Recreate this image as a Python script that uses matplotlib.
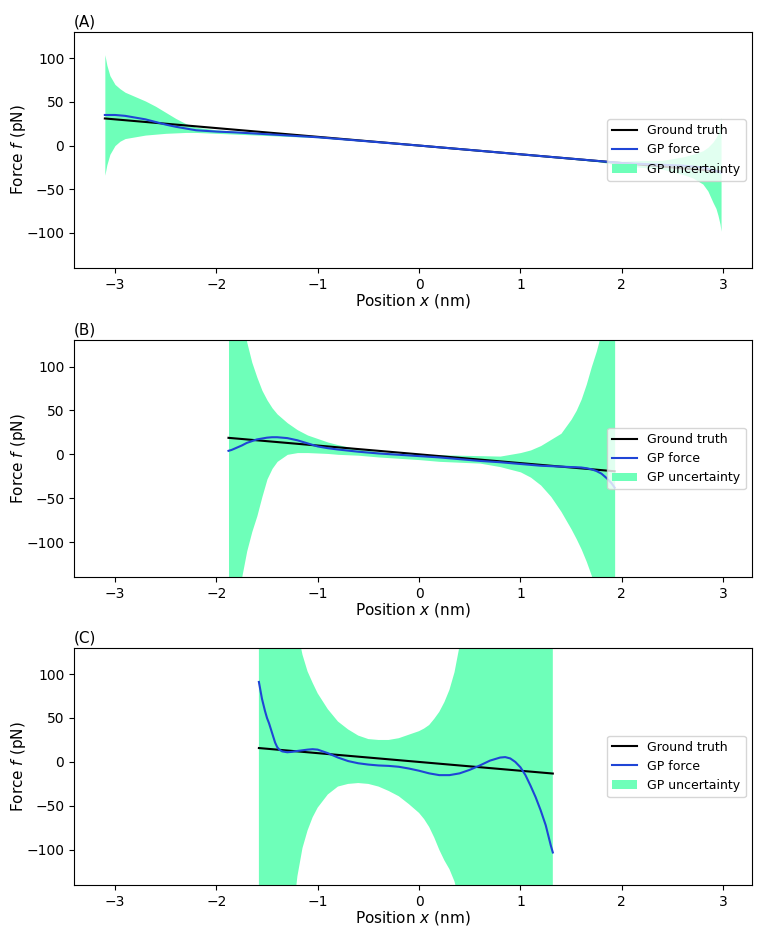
import matplotlib
matplotlib.use("Agg")
import matplotlib.pyplot as plt
import numpy as np

# ---------------- data ----------------
# Panel A
xA = [-3.1, -3.08, -3.05, -3.0, -2.95, -2.9, -2.8, -2.7, -2.6, -2.5, -2.4, -2.3, -2.2, -2.0, -1.8,
      -1.5, -1.0, -0.5, 0.0, 0.5, 1.0, 1.5, 1.8, 2.0, 2.2, 2.4, 2.6, 2.7, 2.8, 2.85, 2.9, 2.93,
      2.95, 2.97, 2.98]
meanA = [35, 35, 35, 35, 34.5, 34, 32, 30, 27, 24, 21.5, 19.5, 17.5, 16, 15,
         13, 9.5, 4.8, 0, -5, -10, -15, -18, -20, -21, -22, -23, -24, -25, -26.5, -28, -29,
         -30, -30.5, -31]
upperA = [104, 92, 80, 70, 65, 61, 56, 51, 45, 38, 31, 25, 21, 18, 16.5,
          14, 10, 5, 0.3, -4.7, -9.7, -14.5, -17, -18, -17, -17, -13, -10, -6, -2, 4, 9,
          14, 24, 32]
lowerA = [-34, -22, -10, 0, 5, 8, 10, 12, 13, 14, 14.5, 15, 15, 14, 13,
          11.5, 9, 4.5, -0.3, -5.3, -10.3, -15.5, -19, -23, -25, -27, -33, -37, -44, -52, -65, -72,
          -80, -90, -98]
gtA_x = [-3.1, 2.98]

# Panel B
xB = [-1.88, -1.85, -1.8, -1.75, -1.7, -1.65, -1.6, -1.55, -1.5, -1.45, -1.4, -1.3, -1.2, -1.1,
      -1.0, -0.9, -0.8, -0.6, -0.4, -0.2, 0.0, 0.2, 0.4, 0.6, 0.8, 1.0, 1.1, 1.2, 1.3, 1.4,
      1.5, 1.55, 1.6, 1.65, 1.7, 1.75, 1.8, 1.85, 1.9, 1.93]
meanB = [4, 5, 7.5, 10, 13, 15, 17, 18, 19, 19.5, 19.5, 18.5, 16, 12.5,
         9, 7, 5.5, 3, 1, -0.5, -2, -3.5, -5.5, -7.5, -9, -11, -12, -13, -13.5, -14,
         -14.5, -14.7, -15, -15.8, -17, -19, -22, -27, -33, -38]
upperB = [400, 300, 220, 165, 128, 105, 88, 73, 62, 53, 46, 36, 28, 22,
          18, 14, 11, 6, 3, 1, 0, -0.5, -1, -1.5, -2, 2, 5, 10, 17, 24,
          40, 50, 63, 80, 100, 118, 140, 200, 300, 400]
lowerB = [-400, -300, -200, -140, -110, -88, -70, -48, -28, -16, -8, 0, 2, 2,
          1.5, 1, 0, -1, -3, -4.5, -6, -8, -9, -10, -14, -20, -26, -35, -48, -65,
          -85, -96, -108, -122, -138, -160, -210, -280, -350, -400]
gtB_x = [-1.88, 1.93]

# Panel C (mean curve)
xC = [-1.58, -1.55, -1.52, -1.5, -1.48, -1.45, -1.42, -1.4, -1.38, -1.35, -1.3, -1.25, -1.2,
      -1.1, -1.05, -1.0, -0.9, -0.8, -0.7, -0.6, -0.5, -0.4, -0.3, -0.2, -0.1, 0.0, 0.1,
      0.2, 0.3, 0.4, 0.5, 0.6, 0.7, 0.8, 0.85, 0.9, 0.95, 1.0, 1.05, 1.1, 1.15, 1.2,
      1.25, 1.3, 1.32]
meanC = [91, 72, 58, 50, 44, 33, 22, 17, 14, 12, 11, 11.5, 12.5,
         14, 14.5, 14, 10, 5, 1, -1.5, -3, -4, -4.5, -5.5, -7.5, -10, -13,
         -15, -15, -13, -9, -4, 1.5, 5, 5.5, 4, 0, -6, -15, -27, -40, -55,
         -72, -95, -103]
# Panel C (uncertainty band)
xC_band = [-1.58, -1.5, -1.4, -1.35, -1.3, -1.25, -1.2, -1.15, -1.1, -1.05, -1.0, -0.9, -0.8,
           -0.7, -0.6, -0.5, -0.4, -0.3, -0.2, -0.1, 0.0, 0.05, 0.1, 0.15, 0.2, 0.25, 0.3,
           0.35, 0.4, 0.45, 0.5, 0.6, 0.8, 1.0, 1.2, 1.32]
upperC = [2000, 1000, 500, 350, 250, 190, 150, 122, 103, 90, 78, 60, 46,
          37, 30, 26, 25, 25, 27, 31, 35, 38, 42, 49, 57, 68, 82,
          102, 132, 180, 250, 500, 1200, 2000, 2000, 2000]
lowerC = [-2000, -1000, -600, -400, -260, -180, -130, -98, -78, -63, -52, -37, -28,
          -25, -24, -25, -28, -33, -39, -48, -58, -65, -74, -86, -100, -112, -122,
          -136, -160, -220, -300, -500, -1200, -2000, -2000, -2000]
gtC_x = [-1.58, 1.32]

gt_slope = -10.0  # ground truth force f = -10 x (pN)

panels = [
    ("(A)", xA, meanA, xA, upperA, lowerA, gtA_x),
    ("(B)", xB, meanB, xB, upperB, lowerB, gtB_x),
    ("(C)", xC, meanC, xC_band, upperC, lowerC, gtC_x),
]

# ---------------- plot ----------------
fig = plt.figure(figsize=(7.68, 9.4), dpi=100)
rects = [
    [0.0964, 0.715, 0.8826, 0.251],
    [0.0964, 0.386, 0.8826, 0.252],
    [0.0964, 0.0585, 0.8826, 0.2525],
]
band_color = "#6effb9"
line_color = "#1f45d6"

for rect, (title, x, m, xb, up, lo, gx) in zip(rects, panels):
    ax = fig.add_axes(rect)
    gx = np.array(gx)
    ax.fill_between(xb, lo, up, color=band_color, linewidth=0, label="GP uncertainty")
    ax.plot(gx, gt_slope * gx, color="black", lw=1.5, label="Ground truth")
    ax.plot(x, m, color=line_color, lw=1.5, label="GP force")
    ax.set_xlim(-3.404, 3.284)
    ax.set_ylim(-140, 130)
    ax.set_yticks([-100, -50, 0, 50, 100])
    ax.set_xticks([-3, -2, -1, 0, 1, 2, 3])
    ax.tick_params(labelsize=10)
    ax.set_xlabel("Position $x$ (nm)", fontsize=11, labelpad=0)
    ax.set_ylabel("Force $f$ (pN)", fontsize=11, labelpad=-1.5)
    ax.set_title(title, loc="left", fontsize=11, pad=4)
    h, l = ax.get_legend_handles_labels()
    order = [l.index("Ground truth"), l.index("GP force"), l.index("GP uncertainty")]
    ax.legend([h[i] for i in order], [l[i] for i in order], loc="center right", fontsize=9)

fig.savefig("out.png", dpi=100)
